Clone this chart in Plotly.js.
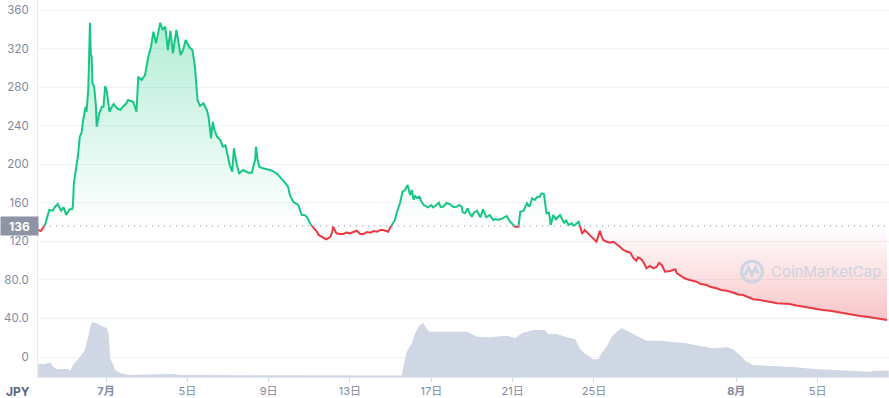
<!DOCTYPE html>
<html>
<head>
<meta charset="utf-8">
<script src="https://cdn.plot.ly/plotly-3.0.1.min.js"></script>
<style>html,body{margin:0;padding:0;background:#fff;}#chart{width:889px;height:398px;}</style>
</head>
<body>
<div id="chart"></div>
<script>
// ---- data (times are 2023 'MM-DD HH', UTC-naive) ----
const times = ['06-27 16','06-27 19','06-28 00','06-28 05','06-28 09','06-28 12','06-28 15','06-28 19','06-28 22','06-29 01','06-29 05','06-29 08','06-29 09','06-29 10','06-29 11','06-29 13','06-29 15','06-29 17','06-29 19','06-29 21','06-30 00','06-30 01','06-30 03','06-30 04','06-30 05','06-30 06','06-30 07','06-30 08','06-30 10','06-30 12','06-30 13','06-30 16','06-30 19','06-30 21','06-30 23','07-01 01','07-01 04','07-01 07','07-01 09','07-01 13','07-01 17','07-01 20','07-02 00','07-02 02','07-02 06','07-02 08','07-02 12','07-02 14','07-02 18','07-02 22','07-03 02','07-03 05','07-03 08','07-03 11','07-03 13','07-03 16','07-03 19','07-03 22','07-04 01','07-04 04','07-04 07','07-04 11','07-04 13','07-04 16','07-04 19','07-04 22','07-05 02','07-05 06','07-05 09','07-05 12','07-05 15','07-05 19','07-05 21','07-05 23','07-06 01','07-06 02','07-06 04','07-06 06','07-06 08','07-06 11','07-06 15','07-06 18','07-06 21','07-07 00','07-07 02','07-07 05','07-07 07','07-07 10','07-07 13','07-07 18','07-07 20','07-08 00','07-08 04','07-08 08','07-08 09','07-08 11','07-08 13','07-08 16','07-08 22','07-09 02','07-09 06','07-09 10','07-09 13','07-09 17','07-09 20','07-09 23','07-10 01','07-10 05','07-10 08','07-10 11','07-10 13','07-10 15','07-10 18','07-10 21','07-11 00','07-11 03','07-11 06','07-11 09','07-11 11','07-11 15','07-11 17','07-11 20','07-11 23','07-12 01','07-12 03','07-12 04','07-12 06','07-12 08','07-12 12','07-12 16','07-12 20','07-13 00','07-13 04','07-13 08','07-13 12','07-13 16','07-13 20','07-14 00','07-14 04','07-14 08','07-14 12','07-14 15','07-14 19','07-14 21','07-15 00','07-15 02','07-15 05','07-15 07','07-15 09','07-15 11','07-15 14','07-15 17','07-15 20','07-15 22','07-15 23','07-16 01','07-16 03','07-16 05','07-16 07','07-16 10','07-16 12','07-16 15','07-16 18','07-16 20','07-17 00','07-17 02','07-17 06','07-17 09','07-17 11','07-17 14','07-17 18','07-17 22','07-18 02','07-18 06','07-18 09','07-18 12','07-18 13','07-18 16','07-18 19','07-18 21','07-19 00','07-19 02','07-19 06','07-19 10','07-19 13','07-19 17','07-19 21','07-20 01','07-20 04','07-20 07','07-20 12','07-20 17','07-20 21','07-21 00','07-21 03','07-21 07','07-21 09','07-21 13','07-21 17','07-21 20','07-21 23','07-22 02','07-22 05','07-22 08','07-22 10','07-22 13','07-22 15','07-22 16','07-22 19','07-22 21','07-23 00','07-23 03','07-23 08','07-23 13','07-23 15','07-23 18','07-23 22','07-24 00','07-24 03','07-24 06','07-24 08','07-24 10','07-24 12','07-24 13','07-24 17','07-24 21','07-24 23','07-25 03','07-25 05','07-25 07','07-25 09','07-25 11','07-25 15','07-25 19','07-25 23','07-26 03','07-26 07','07-26 10','07-26 15','07-26 19','07-26 22','07-27 02','07-27 04','07-27 08','07-27 11','07-27 14','07-27 18','07-27 22','07-28 02','07-28 05','07-28 08','07-28 12','07-28 18','07-29 00','07-29 02','07-29 07','07-29 11','07-29 17','07-30 01','07-30 06','07-30 13','07-30 18','07-31 01','07-31 06','07-31 13','07-31 21','08-01 02','08-01 08','08-01 14','08-01 20','08-02 04','08-02 12','08-02 17','08-03 00','08-03 07','08-03 15','08-03 23','08-04 07','08-04 15','08-04 23','08-05 06','08-05 15','08-05 21','08-06 02','08-06 10','08-06 18','08-07 02','08-07 10','08-07 16','08-07 22','08-08 04','08-08 10'];
const prices = [131.8,130.7,137,152.5,151.8,155.9,158.7,151.8,155.3,147.3,153.2,153.2,158,180.2,185.7,199.2,209.6,228.6,232.1,245.9,259.7,254.5,277,308,346.8,315,311.6,284,280.4,261.5,238.9,252.8,259.7,259.7,281.2,275.3,254.5,259.7,262.5,258,256.3,259.7,263.2,266.6,265.6,264.9,254.5,290.8,287.4,292.6,311.6,321.9,337.5,325.5,334,346.8,339.3,342.7,318.5,338.5,315,339.3,329.6,313.3,318.5,328.9,321.9,318.5,301.2,266.6,260.4,263.2,259.7,256.3,249.3,240.7,226.9,244.1,235.5,228.6,225.1,218.2,219.6,207.8,199.2,192.3,216.5,201,190.6,194,193.3,191.2,191.2,204.4,218.2,204.4,197.4,196.1,194.7,194,192.3,189.9,187.1,183.6,180.2,176.4,168.1,161.1,159.8,157.7,152.5,147.3,147.3,145.6,140.1,135.9,132.8,130,126.6,124.8,123.5,122.1,123.5,124.8,129.7,135.2,131.8,128.3,127.6,127.6,129.2,128.3,129.7,131,127.6,127.6,129.7,129,130.7,130,131.8,131.8,130.7,130,134.9,138,142.1,149.1,154.6,159.5,171.5,173.3,178.5,171.2,168.1,173.3,163.2,167,165,166.3,161.9,157.7,156.7,155.3,157.7,155.3,157.7,160.1,155.6,155.9,159.8,158.7,155.6,155.9,157.7,155.9,150.4,149.1,154.3,149.4,145.6,149.4,151.8,144.9,153.2,144.9,147.3,142.1,143.2,142.1,143.9,146.3,140.4,138,135.2,135.2,150.7,151.8,159.5,155.9,164.7,162.9,166,166.3,169.8,169.1,157.7,149.1,149.7,137,147.3,142.9,147.3,138.7,142.1,137,138.7,135.9,138,140.4,134.6,128.3,129.7,131.8,128.3,125.5,123.1,119.6,125.5,131,125.5,121.4,119.6,118.6,119.6,117.2,114.1,111.5,109.2,108.4,103.4,99.9,103.4,101.4,97.5,92,94.4,92,93.4,97.5,95.5,88.5,89.2,91,86.8,84,81.7,79.9,78.1,75.7,74.7,72.6,71.3,69.5,68.8,66.7,64.8,64.3,61.7,59.9,59.1,58.1,57.1,55.7,55.5,55,53.4,52.2,50.8,49.5,48.8,48,47,46,45.1,43.9,42.5,41.8,41,40.2,39.4,38.4];
const currentPrice = 136;

// volume (relative units)
const volTimes = ['06-27 16','06-28 00','06-28 06','06-28 10','06-28 14','06-29 03','06-29 06','06-29 09','06-29 17','06-29 23','06-30 03','06-30 06','06-30 08','06-30 13','06-30 19','07-01 01','07-01 03','07-01 05','07-01 11','07-01 17','07-02 04','07-03 12','07-04 07','07-04 15','07-06 06','07-07 02','07-15 13','07-15 15','07-15 19','07-16 01','07-16 05','07-16 09','07-16 14','07-16 19','07-16 22','07-18 18','07-19 06','07-19 21','07-20 17','07-21 03','07-21 11','07-22 00','07-22 14','07-22 18','07-23 04','07-23 16','07-24 02','07-24 07','07-24 13','07-24 23','07-25 05','07-25 09','07-25 15','07-25 21','07-26 03','07-26 09','07-26 17','07-27 02','07-27 14','07-28 06','07-28 22','07-29 13','07-30 05','07-30 21','07-31 13','07-31 20','08-01 04','08-01 12','08-01 20','08-02 20','08-03 23','08-04 19','08-06 10','08-07 14','08-07 18','08-08 12'];
const volumes = [13,13,14.7,9.7,8,8,6.3,12,19.7,27,40.3,52,54.7,53.7,51,48.7,43.7,18.7,7,3.7,2,3,3,2,2,1.5,1.5,10.3,25.3,33.7,43.7,50.3,54.3,47.7,45.3,45.3,40.3,39.7,41.3,38.7,43.7,47,47,43,43,39.7,37.7,28.7,23.7,17.7,17.7,23.7,30.3,40.3,45.3,48.7,45.3,41,36.3,36.3,35.3,33.7,31,28.7,29.7,27.7,22,15.3,12,11,9.7,8,6.3,5.3,6.3,6.3];

const xTickVals = ['2023-07-01','2023-07-05','2023-07-09','2023-07-13','2023-07-17','2023-07-21','2023-07-25','2023-08-01','2023-08-05'];
const xTickText = ['<b>7月</b>','5日','9日','13日','17日','21日','25日','<b>8月</b>','5日'];
const yTickVals = [0,40,80,120,160,200,240,280,320,360];
const yTickText = ['0','40.0','80.0','120','160','200','240','280','320','360'];

// ---- helpers ----
function toMs(s){const [md,hh]=s.split(' ');const [m,d]=md.split('-').map(Number);return Date.UTC(2023,m-1,d,Number(hh));}
const xs = times.map(toMs);
const X=[],Y=[];
for(let i=0;i<xs.length;i++){
  if(i>0 && (prices[i-1]-currentPrice)*(prices[i]-currentPrice)<0){
    const t=(currentPrice-prices[i-1])/(prices[i]-prices[i-1]);
    X.push(xs[i-1]+t*(xs[i]-xs[i-1])); Y.push(currentPrice);
  }
  X.push(xs[i]); Y.push(prices[i]);
}
const base = Y.map(()=>currentPrice);
const upper = Y.map(v=>Math.max(v,currentPrice));
const lower = Y.map(v=>Math.min(v,currentPrice));
const greenY = Y.map(v=>v>=currentPrice?v:null);
const redY = Y.map(v=>v<=currentPrice?v:null);

const GREEN='#16c784', RED='#ea3943';
const L=38, R=889, T=0, B=377;
const px=x=>(x-L)/(R-L), py=y=>(B-y)/(B-T);

const traces=[
  {x:volTimes.map(toMs),y:volumes,yaxis:'y2',type:'scatter',mode:'lines',line:{width:0},fill:'tozeroy',fillcolor:'#cfd6e4',hoverinfo:'skip'},
  {x:X,y:base,type:'scatter',mode:'lines',line:{width:0},hoverinfo:'skip'},
  {x:X,y:upper,type:'scatter',mode:'lines',line:{width:0},fill:'tonexty',
   fillgradient:{type:'vertical',start:currentPrice,stop:350,colorscale:[[0,'rgba(22,199,132,0)'],[1,'rgba(22,199,132,0.33)']]},hoverinfo:'skip'},
  {x:X,y:base,type:'scatter',mode:'lines',line:{width:0},hoverinfo:'skip'},
  {x:X,y:lower,type:'scatter',mode:'lines',line:{width:0},fill:'tonexty',
   fillgradient:{type:'vertical',start:30,stop:currentPrice,colorscale:[[0,'rgba(234,57,67,0.32)'],[1,'rgba(234,57,67,0)']]},hoverinfo:'skip'},
  {x:X,y:greenY,type:'scatter',mode:'lines',line:{color:GREEN,width:2},connectgaps:false},
  {x:X,y:redY,type:'scatter',mode:'lines',line:{color:RED,width:2},connectgaps:false}
];

const layout={
  width:889,height:398,margin:{l:L,r:0,t:0,b:21,pad:0},
  paper_bgcolor:'#fff',plot_bgcolor:'#fff',showlegend:false,
  font:{family:'Inter, "Noto Sans CJK JP", sans-serif',color:'#808a9d',size:11},
  xaxis:{type:'date',range:['2023-06-27 15:42','2023-08-08 12:20'],tickmode:'array',tickvals:xTickVals,ticktext:xTickText,
    ticks:'outside',ticklen:4,tickcolor:'#d5dae2',tickwidth:1,showgrid:false,zeroline:false,showline:true,linecolor:'#e6e9ee',linewidth:1,
    tickfont:{family:'Inter, "Noto Sans CJK JP", sans-serif',size:11,color:'#808a9d'}},
  yaxis:{range:[-20.75,370.4],tickmode:'array',tickvals:yTickVals,ticktext:yTickText,showgrid:true,gridcolor:'#eff2f5',gridwidth:1,
    zeroline:false,showline:true,linecolor:'#e6e9ee',linewidth:1,ticks:'',ticklabelstandoff:6,
    tickfont:{family:'Inter, sans-serif',size:11.5,color:'#808a9d'}},
  yaxis2:{overlaying:'y',range:[0,377],visible:false,fixedrange:true},
  shapes:[
    {type:'line',xref:'paper',yref:'y',x0:0,x1:1,y0:currentPrice,y1:currentPrice,line:{color:'#9aa1ad',width:1.2,dash:'1px,5px'}},
    {type:'circle',xref:'paper',yref:'paper',x0:px(741.5),x1:px(762.5),y0:py(282),y1:py(261),line:{color:'#cdd5e1',width:3}},
    {type:'path',xref:'paper',yref:'paper',path:`M ${px(745)},${py(275)} L ${px(748.5)},${py(267.5)} L ${px(752)},${py(275)} L ${px(755.5)},${py(267.5)} L ${px(758.5)},${py(274)}`,line:{color:'#cdd5e1',width:3}}
  ],
  annotations:[
    {xref:'paper',yref:'y',x:px(0),xanchor:'left',y:currentPrice,yanchor:'middle',text:'<b>136</b>',showarrow:false,
     bgcolor:'#8d94a3',width:37,height:18,borderpad:0,font:{family:'Inter, sans-serif',size:12,color:'#fff'}},
    {xref:'paper',yref:'paper',x:px(18),xanchor:'center',y:py(391),yanchor:'middle',text:'<b>JPY</b>',showarrow:false,
     font:{family:'Inter, sans-serif',size:12,color:'#58667e'}},
    {xref:'paper',yref:'paper',x:px(769),xanchor:'left',y:py(271.5),yanchor:'middle',text:'CoinMarketCap',showarrow:false,
     font:{family:'Inter, sans-serif',size:15,color:'#ccd4e0'}}
  ]
};
Plotly.newPlot('chart',traces,layout,{staticPlot:true,displayModeBar:false});
</script>
</body>
</html>
